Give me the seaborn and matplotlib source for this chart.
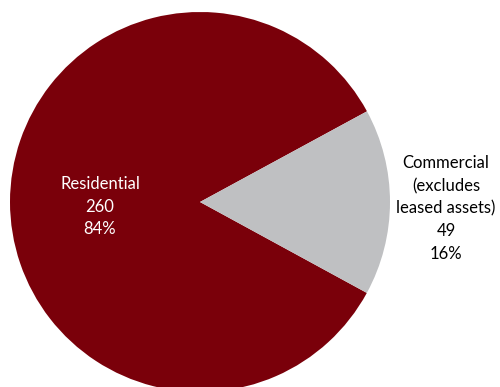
import matplotlib
matplotlib.use("Agg")
import matplotlib.pyplot as plt
import seaborn as sns

categories = ["Residential", "Commercial\n(excludes\nleased assets)"]
values = [260, 49]
colors = ["#7A000A", "#BFC0C2"]
text_colors = ["white", "black"]

sns.set_theme(style="white")
plt.rcParams['font.family'] = ['Lato', 'DejaVu Sans']

fig = plt.figure(figsize=(5, 3.87), dpi=100)
W, H = 500, 387
cx, cy, r = 200, 202, 190
ax = fig.add_axes([(cx - r) / W, (H - cy - r) / H, 2 * r / W, 2 * r / H])

total = sum(values)
ax.pie(values, colors=colors, startangle=28.5, counterclock=True,
       wedgeprops=dict(linewidth=0), radius=1)
ax.set_xlim(-1, 1)
ax.set_ylim(-1, 1)
ax.set_aspect("auto")
ax.axis("off")

positions = [(-0.526, -0.025), (1.295, -0.035)]
for cat, v, tc, (x, y) in zip(categories, values, text_colors, positions):
    pct = round(100 * v / total)
    ax.text(x, y, f"{cat}\n{v}\n{pct}%", ha="center", va="center",
            color=tc, fontsize=12, linespacing=1.5, clip_on=False)

fig.savefig("out.png", dpi=100)
